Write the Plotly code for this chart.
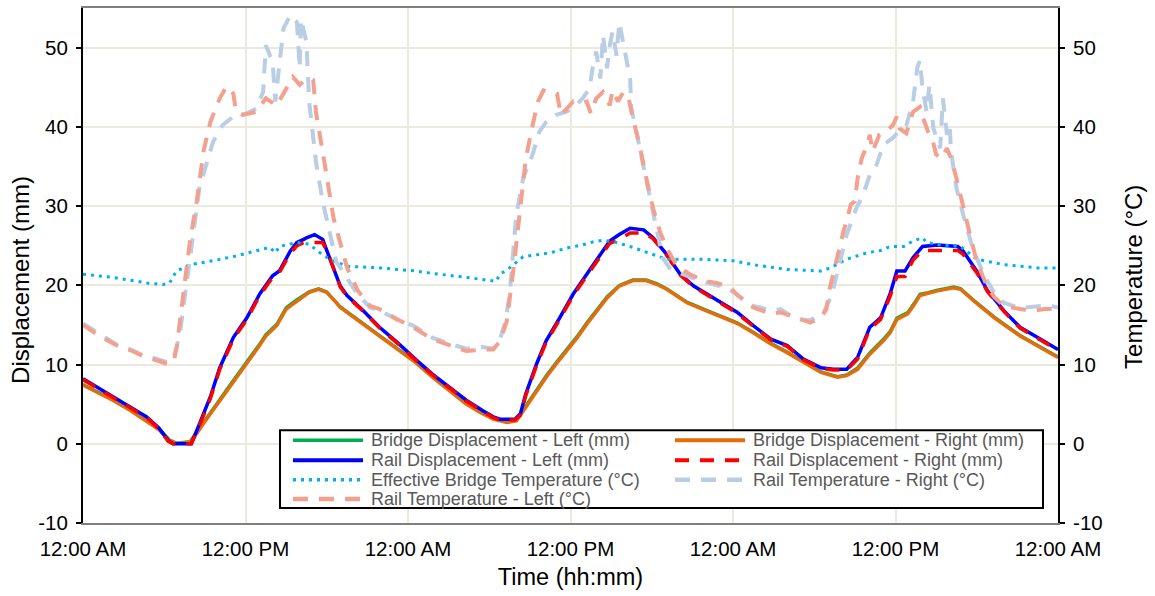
import plotly.graph_objects as go

# ---- data: hours since 12:00 AM of day 1 ----
tick_hours = [0, 12, 24, 36, 48, 60, 72]
tick_labels = ["12:00 AM", "12:00 PM", "12:00 AM", "12:00 PM", "12:00 AM", "12:00 PM", "12:00 AM"]
y_ticks = [-10, 0, 10, 20, 30, 40, 50]
y_tick_labels = ["-10", "0", "10", "20", "30", "40", "50"]

t_bridge = [0, 1.1, 2.2, 3.5, 4.7, 5.6, 6.4, 6.9, 7.9, 8.4, 9.0, 9.6, 10.8, 12.1, 13.0, 13.5,
            14.3, 15.0, 15.8, 16.7, 17.4, 18.0, 18.5, 19.0, 20.2, 21.9, 23.4, 24.6, 25.8, 27.1,
            28.3, 29.4, 30.3, 31.3, 32.0, 32.7, 33.5, 34.2, 35.0, 35.7, 36.5, 37.2, 38.0, 38.7,
            39.6, 40.6, 41.6, 42.4, 43.1, 44.6, 46.0, 47.1, 48.3, 49.5, 50.8, 52.0, 53.2, 54.5,
            55.7, 56.4, 57.2, 58.1, 59.1, 59.6, 60.1, 60.5, 60.9, 61.4, 61.8, 62.4, 63.1, 64.3,
            64.8, 65.8, 67.3, 69.2, 70.7, 72.0]
bridge_left = [7.5, 6.6, 5.6, 4.3, 3.0, 1.9, 0.5, 0.1, 0.3, 1.5, 3.0, 4.4, 7.3, 10.3, 12.5, 13.8,
               15.1, 17.2, 18.2, 19.2, 19.6, 19.2, 18.3, 17.3, 15.8, 13.7, 11.8, 10.3, 8.5, 6.8,
               5.1, 4.0, 3.2, 2.8, 3.0, 4.8, 6.8, 8.6, 10.4, 11.9, 13.6, 15.3, 17.0, 18.6,
               20.0, 20.7, 20.7, 20.2, 19.6, 17.9, 16.9, 16.1, 15.3, 14.1, 12.7, 11.6, 10.4, 9.1,
               8.5, 8.7, 9.6, 11.5, 13.2, 14.2, 15.9, 16.2, 16.6, 17.8, 18.9, 19.1, 19.4, 19.8,
               19.6, 18.1, 16.0, 13.7, 12.3, 11.0]
bridge_right = [7.4, 6.5, 5.5, 4.2, 2.9, 1.8, 0.4, 0.05, 0.2, 1.3, 2.8, 4.2, 7.1, 10.1, 12.3, 13.6,
                14.9, 17.0, 18.0, 19.1, 19.5, 19.1, 18.2, 17.2, 15.7, 13.6, 11.7, 10.2, 8.4, 6.7,
                5.0, 3.9, 3.1, 2.7, 2.9, 4.6, 6.6, 8.4, 10.2, 11.7, 13.4, 15.1, 16.8, 18.4,
                19.9, 20.6, 20.6, 20.1, 19.5, 17.8, 16.8, 16.0, 15.2, 14.0, 12.6, 11.5, 10.3, 9.0,
                8.4, 8.6, 9.4, 11.3, 13.0, 14.0, 15.7, 16.0, 16.4, 17.6, 18.7, 19.0, 19.3, 19.7,
                19.5, 18.0, 15.9, 13.6, 12.2, 10.9]

t_rail = [0, 1.1, 2.2, 3.5, 4.7, 5.6, 6.3, 6.65, 8.0, 8.6, 9.4, 10.1, 11.1, 12.1, 13.05, 14.0,
          14.5, 15.3, 15.8, 16.3, 16.5, 17.1, 17.7, 18.2, 19.0, 19.5, 20.7, 21.9, 23.2, 24.6,
          25.8, 27.1, 28.3, 29.5, 30.3, 30.8, 31.9, 32.3, 32.7, 33.5, 34.2, 35.2, 36.2, 37.2,
          38.2, 38.9, 39.6, 40.4, 41.4, 42.1, 43.1, 44.1, 45.1, 46.3, 47.5, 48.3, 49.5, 50.8,
          52.0, 53.2, 54.5, 55.4, 56.4, 57.2, 58.1, 58.9, 59.6, 60.1, 60.7, 61.3, 62.0, 63.1,
          64.6, 65.0, 66.0, 66.8, 68.0, 69.2, 70.5, 72.0]
rail_left = [8.2, 7.1, 5.9, 4.6, 3.4, 2.0, 0.4, 0.0, 0.0, 2.5, 5.9, 9.6, 13.4, 15.9, 18.9, 21.2,
             21.8, 24.3, 25.4, 25.8, 26.0, 26.4, 25.8, 23.5, 19.9, 18.7, 16.8, 14.7, 12.8, 10.6,
             8.8, 7.1, 5.5, 4.2, 3.4, 3.1, 3.1, 3.8, 6.3, 10.1, 13.0, 15.9, 18.9, 21.4,
             23.9, 25.6, 26.4, 27.2, 27.0, 26.0, 23.9, 21.4, 19.9, 18.7, 17.4, 16.6, 14.9, 13.2,
             12.4, 10.7, 9.6, 9.4, 9.4, 10.9, 14.7, 15.9, 18.9, 21.8, 21.8, 23.5, 24.9, 25.1,
             24.9, 24.3, 21.8, 19.3, 16.8, 14.7, 13.4, 11.9]
rail_right = [8.1, 7.0, 5.8, 4.5, 3.3, 1.9, 0.3, 0.0, 0.0, 2.3, 5.7, 9.4, 13.2, 15.7, 18.7, 21.0,
              21.6, 24.0, 25.0, 25.4, 25.4, 25.4, 25.4, 23.6, 19.8, 18.6, 16.7, 14.6, 12.7, 10.5,
              8.7, 7.0, 5.4, 4.1, 3.3, 3.0, 3.0, 3.6, 6.1, 9.9, 12.8, 15.7, 18.7, 21.2,
              23.7, 25.3, 25.8, 26.6, 26.6, 25.9, 23.8, 21.3, 19.8, 18.6, 17.3, 16.5, 14.8, 13.1,
              12.3, 10.6, 9.5, 9.3, 9.3, 10.7, 14.5, 15.7, 18.6, 21.1, 21.1, 23.2, 24.4, 24.4,
              24.4, 23.9, 21.6, 19.2, 16.7, 14.6, 13.3, 11.8]

t_eff = [0, 2.2, 4.7, 5.9, 6.4, 6.9, 7.9, 9.6, 11.3, 13.05, 13.8, 14.2, 14.5, 15.8, 16.7, 17.5,
         18.2, 19.5, 21.9, 24.6, 25.8, 28.3, 30.5, 30.8, 31.5, 32.5, 34.5, 35.7, 36.9, 37.7,
         38.4, 39.4, 40.4, 41.9, 43.1, 45.6, 48.0, 49.5, 52.0, 54.5, 55.2, 56.4, 57.9, 58.9,
         59.6, 60.6, 61.3, 62.0, 62.3, 63.3, 64.8, 66.0, 68.0, 70.5, 72.0]
eff_temp = [21.4, 21.0, 20.3, 20.1, 20.3, 21.8, 22.6, 23.1, 23.7, 24.5, 24.8, 24.1, 24.9, 25.4, 25.2, 24.1,
            23.3, 22.4, 22.2, 21.8, 21.5, 21.0, 20.5, 21.4, 22.2, 23.6, 24.1, 24.7, 25.1, 25.5,
            25.7, 25.4, 24.9, 24.0, 23.3, 23.3, 23.1, 22.6, 22.0, 21.8, 22.2, 23.3, 24.1, 24.4,
            24.9, 24.9, 25.6, 26.0, 25.4, 25.1, 24.9, 23.3, 22.6, 22.2, 22.2]

t_temp_right = [0, 1.2, 2.5, 3.5, 4.4, 5.3, 6.2, 6.6, 6.9, 7.2, 7.4, 7.6, 8.0, 8.6, 9.6, 10.3,
                11.1, 12.1, 12.8, 13.3, 13.5, 14.0, 14.2, 14.5, 14.8, 15.3, 15.8, 16.0, 16.1, 16.5,
                16.7, 17.2, 17.7, 18.2, 18.7, 19.5, 20.3, 21.2, 21.9, 23.2, 24.4, 25.8, 27.1, 28.3,
                29.5, 30.3, 30.8, 31.2, 31.5, 32.0, 32.5, 33.2, 33.7, 34.2, 34.9, 35.7, 36.4, 36.9,
                37.4, 37.7, 37.9, 38.2, 38.4, 38.7, 38.9, 39.1, 39.4, 39.6, 39.9, 40.1, 40.4, 40.5,
                40.9, 41.4, 41.9, 42.4, 42.8, 43.3, 44.3, 45.5, 46.8, 47.8, 48.5, 49.5, 51.0, 51.5,
                52.7, 53.7, 54.7, 55.3, 55.9, 56.4, 57.1, 57.6, 58.1, 58.6, 59.1, 59.8, 60.3, 60.8,
                61.3, 61.6, 61.8, 62.0, 62.3, 62.5, 62.8, 63.3, 63.5, 63.8, 64.0, 64.1, 64.5, 65.0,
                65.7, 66.5, 67.2, 68.0, 69.2, 70.5, 71.2, 72.0]
temp_right = [15.2, 13.9, 12.5, 11.9, 11.2, 10.8, 10.3, 10.5, 12.0, 14.5, 17.0, 19.3, 25.0, 32.3, 38.1, 40.2,
              41.3, 41.7, 42.3, 44.4, 50.3, 48.2, 43.2, 47.4, 52.4, 54.1, 53.2, 47.4, 53.6, 50.7,
              43.2, 35.6, 30.6, 26.8, 23.0, 20.9, 18.8, 17.2, 16.8, 15.7, 14.9, 13.4, 12.6, 12.0,
              12.2, 12.0, 13.2, 15.5, 18.8, 28.9, 33.5, 36.5, 39.4, 40.6, 41.5, 41.9, 42.7, 43.6,
              44.8, 48.2, 49.5, 46.1, 51.6, 47.4, 50.3, 52.0, 49.0, 53.2, 50.3, 49.0, 46.1, 42.3,
              39.0, 34.8, 30.6, 26.4, 23.5, 22.2, 21.4, 20.6, 20.0, 19.4, 18.6, 17.4, 16.8, 17.0,
              15.7, 15.6, 16.6, 18.8, 23.0, 26.4, 29.7, 31.4, 33.9, 35.2, 37.7, 38.6, 39.6, 40.2,
              43.2, 47.4, 48.4, 44.8, 41.9, 45.3, 39.8, 37.3, 43.6, 39.0, 40.2, 36.9, 32.3, 28.9,
              24.7, 21.4, 19.3, 17.8, 17.1, 17.4, 17.5, 17.2]

t_temp_left = [0, 1.2, 2.5, 3.5, 4.4, 5.3, 6.2, 6.7, 7.0, 7.1, 7.3, 7.5, 7.9, 8.4, 8.9, 9.4,
               10.1, 10.6, 11.1, 11.3, 11.8, 12.8, 13.5, 14.3, 15.0, 15.5, 16.0, 16.5, 17.0, 17.2,
               17.9, 18.5, 19.5, 20.3, 21.2, 21.9, 23.2, 24.4, 25.8, 27.1, 28.3, 29.5, 30.3, 30.8,
               31.3, 31.8, 32.3, 32.7, 33.2, 33.6, 34.0, 34.5, 35.0, 35.3, 35.7, 36.2, 36.7, 37.2,
               37.5, 37.9, 38.4, 38.9, 39.1, 39.5, 39.9, 40.3, 40.6, 41.1, 41.6, 42.1, 42.6, 43.1,
               43.8, 44.8, 46.0, 46.8, 47.8, 48.3, 49.5, 50.8, 51.5, 52.7, 53.7, 54.5, 54.9, 55.1,
               55.6, 56.1, 56.5, 56.7, 57.0, 57.2, 57.5, 57.9, 58.1, 58.3, 58.6, 58.8, 59.3, 59.8,
               60.1, 60.3, 60.8, 61.3, 61.8, 62.0, 62.4, 62.7, 63.0, 63.4, 63.8, 64.1, 64.5, 65.0,
               65.5, 66.0, 66.7, 67.3, 68.0, 69.2, 70.2, 71.0, 72.0]
temp_left = [15.0, 13.6, 12.4, 11.8, 11.1, 10.6, 10.1, 10.3, 13.0, 14.7, 17.5, 20.5, 25.6, 30.6, 36.9, 40.6,
             43.6, 45.1, 44.2, 41.9, 41.5, 41.9, 43.6, 42.7, 44.8, 46.3, 45.3, 46.1, 45.9, 41.9,
             34.8, 28.5, 22.2, 19.3, 17.4, 17.0, 15.7, 14.7, 13.2, 12.4, 11.7, 11.9, 11.9, 13.0,
             15.5, 22.2, 29.7, 36.0, 40.2, 43.2, 44.6, 44.4, 44.2, 41.5, 42.3, 43.2, 43.0, 43.2,
             41.7, 43.6, 44.4, 42.7, 44.6, 43.2, 44.4, 43.6, 41.1, 37.7, 33.5, 29.7, 26.8, 24.7,
             22.6, 21.4, 20.5, 20.3, 19.7, 18.8, 17.2, 16.4, 16.6, 15.9, 15.3, 15.9, 17.0, 19.3,
             23.1, 26.4, 28.9, 30.2, 30.6, 33.5, 36.0, 37.7, 39.0, 36.9, 38.1, 39.0, 39.4, 40.2,
             41.3, 39.8, 39.2, 41.9, 42.5, 41.3, 39.4, 38.6, 36.5, 36.0, 37.3, 36.0, 33.5, 29.7,
             26.4, 23.0, 20.1, 18.5, 17.4, 17.0, 16.8, 17.0, 17.0]

# ---- styling ----
FONT = "Arial, Liberation Sans, sans-serif"
GRID = "#ece9de"
W, H = 1155, 596
M_L, M_R, M_T, M_B = 83, 97, 6, 73

series = [
    dict(name="Bridge Displacement - Left (mm)", x=t_bridge, y=bridge_left, color="#00b050",
         dash="solid", width=3, axis="y"),
    dict(name="Bridge Displacement - Right (mm)", x=t_bridge, y=bridge_right, color="#e46c0a",
         dash="solid", width=3.5, axis="y"),
    dict(name="Rail Displacement - Left (mm)", x=t_rail, y=rail_left, color="#0000ff",
         dash="solid", width=3.5, axis="y"),
    dict(name="Rail Displacement - Right (mm)", x=t_rail, y=rail_right, color="#ff0000",
         dash="14px,11px", width=3.5, axis="y"),
    dict(name="Effective Bridge Temperature (°C)", x=t_eff, y=eff_temp, color="#00b0f0",
         dash="3px,5px", width=3, axis="y2"),
    dict(name="Rail Temperature - Right (°C)", x=t_temp_right, y=temp_right, color="#b9cde5",
         dash="15px,11px", width=4, axis="y2"),
    dict(name="Rail Temperature - Left (°C)", x=t_temp_left, y=temp_left, color="#f4a08e",
         dash="15px,11px", width=4, axis="y2"),
]

fig = go.Figure()
for s in series:
    fig.add_trace(go.Scatter(
        x=s["x"], y=s["y"], name=s["name"], mode="lines", yaxis=s["axis"],
        line=dict(color=s["color"], width=s["width"], dash=s["dash"]),
        showlegend=False, hoverinfo="skip"))

# ---- boxed legend in two columns, laid out in pixels ----
plot_w = W - M_L - M_R
plot_h = H - M_T - M_B


def px(xpix):
    return (xpix - M_L) / plot_w


def py(ypix):
    return (H - M_B - ypix) / plot_h


shapes = [dict(type="rect", xref="paper", yref="paper", layer="above",
               x0=px(280), x1=px(1043), y0=py(508), y1=py(430),
               line=dict(color="#000000", width=2), fillcolor="#ffffff")]
annotations = []
row_y = [440, 460, 479.5, 499]
columns = [(293, [0, 2, 4, 6]), (675, [1, 3, 5])]
for x_left, idxs in columns:
    for row, i in enumerate(idxs):
        s = series[i]
        yy = py(row_y[row])
        shapes.append(dict(type="line", xref="paper", yref="paper", layer="above",
                           x0=px(x_left), x1=px(x_left + 70), y0=yy, y1=yy,
                           line=dict(color=s["color"], width=s["width"] + 0.5,
                                     dash=s["dash"])))
        annotations.append(dict(xref="paper", yref="paper", x=px(x_left + 76), y=yy,
                                xanchor="left", yanchor="middle", showarrow=False,
                                text=s["name"], font=dict(size=18, color="#595959",
                                                          family=FONT)))

# vertical axis titles
title_font = dict(size=24, color="#000000", family=FONT)
annotations.append(dict(xref="paper", yref="paper", x=px(21), y=py(279), textangle=-90,
                        xanchor="center", yanchor="middle", showarrow=False,
                        text="Displacement (mm)", font=title_font))
annotations.append(dict(xref="paper", yref="paper", x=px(1134), y=py(276), textangle=-90,
                        xanchor="center", yanchor="middle", showarrow=False,
                        text="Temperature (°C)", font=title_font))

tick_font = dict(size=20.5, color="#000000")
fig.update_layout(
    width=W, height=H,
    margin=dict(l=M_L, r=M_R, t=M_T, b=M_B),
    paper_bgcolor="#ffffff", plot_bgcolor="#ffffff",
    font=dict(family=FONT, color="#000000"),
    showlegend=False,
    shapes=shapes, annotations=annotations,
    xaxis=dict(range=[0, 72], tickvals=tick_hours, ticktext=tick_labels,
               showgrid=True, gridcolor=GRID, gridwidth=2,
               showline=True, linecolor="#7f7f7f", linewidth=2, mirror=True,
               ticks="", tickfont=tick_font, ticklabelstandoff=6,
               zeroline=False,
               title=dict(text="Time (hh:mm)", font=dict(size=23.5), standoff=10)),
    yaxis=dict(range=[-10, 55], tickvals=y_ticks, ticktext=y_tick_labels,
               showgrid=True, gridcolor=GRID, gridwidth=2, zeroline=False,
               showline=True, linecolor="#000000", linewidth=2,
               ticks="outside", ticklen=5, tickcolor="#000000", tickwidth=2,
               tickfont=tick_font, ticklabelstandoff=4),
    yaxis2=dict(range=[-10, 55], tickvals=y_ticks, ticktext=y_tick_labels,
                overlaying="y", side="right", showgrid=False, zeroline=False,
                showline=True, linecolor="#000000", linewidth=2,
                ticks="outside", ticklen=5, tickcolor="#000000", tickwidth=2,
                tickfont=tick_font, ticklabelstandoff=4),
)

fig.write_html("out.html")
